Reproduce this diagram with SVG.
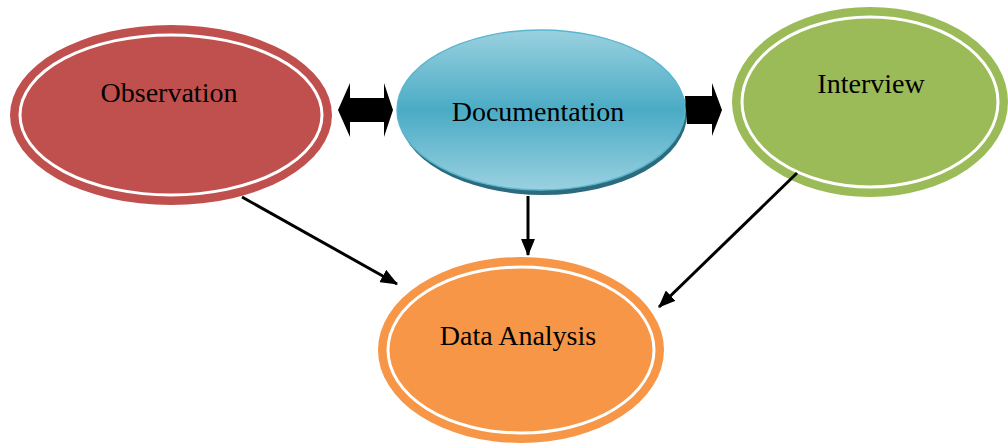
<svg xmlns="http://www.w3.org/2000/svg" width="1008" height="444" viewBox="0 0 1008 444">
<style>
.lbl{font-family:"Liberation Serif","Times New Roman",serif;font-size:28px;fill:#000;text-anchor:middle}
.ring{fill:none;stroke:#fff;stroke-width:3}
.conn{stroke:#000;stroke-width:3;fill:none}
.blk{fill:#000}
</style>
<defs>
<linearGradient id="docg" x1="0" y1="0" x2="0" y2="1">
<stop offset="0" stop-color="#9ad1e0"/>
<stop offset="0.5" stop-color="#4aabc5"/>
<stop offset="1" stop-color="#9ad1e0"/>
</linearGradient>
<marker id="ah" viewBox="0 0 16 13" refX="15" refY="6.5" markerWidth="5.8" markerHeight="4.8" orient="auto" markerUnits="strokeWidth">
<path d="M0,0 L16,6.5 L0,13 Z" fill="#000"/>
</marker>
</defs>
<rect width="1008" height="444" fill="#fff"/>
<g id="observation">
<ellipse cx="171" cy="115" rx="161" ry="90" fill="#c0504d"/>
<ellipse class="ring" cx="171" cy="115" rx="151" ry="80"/>
<text class="lbl" x="169" y="102">Observation</text>
</g>
<g id="documentation">
<ellipse cx="543" cy="114" rx="144" ry="81" fill="#2b6b7d"/>
<ellipse cx="541" cy="110" rx="144" ry="80" fill="url(#docg)" stroke="#5ab6cf" stroke-width="1.5"/>
<text class="lbl" x="538" y="121">Documentation</text>
</g>
<g id="interview">
<ellipse cx="870" cy="102" rx="138" ry="95" fill="#9bbb59"/>
<ellipse class="ring" cx="870" cy="102" rx="128" ry="85"/>
<text class="lbl" x="871" y="93">Interview</text>
</g>
<g id="data-analysis">
<ellipse cx="521" cy="350" rx="143" ry="93" fill="#f79646"/>
<ellipse class="ring" cx="521" cy="350" rx="133" ry="83"/>
<text class="lbl" x="518" y="345">Data Analysis</text>
</g>
<g id="connectors">
<path class="blk" d="M338,110 L350,83 L350,98 L384,98 L384,83 L393,110 L384,137 L384,122 L350,122 L350,137 Z"/>
<path class="blk" d="M685,96 L712,96 L712,83 L722,110 L712,136 L712,124 L687,124 Z"/>
<line class="conn" x1="242" y1="197" x2="397" y2="284" marker-end="url(#ah)"/>
<line class="conn" x1="528" y1="196" x2="528" y2="255" marker-end="url(#ah)"/>
<line class="conn" x1="797" y1="173" x2="659" y2="307" marker-end="url(#ah)"/>
</g>
</svg>
